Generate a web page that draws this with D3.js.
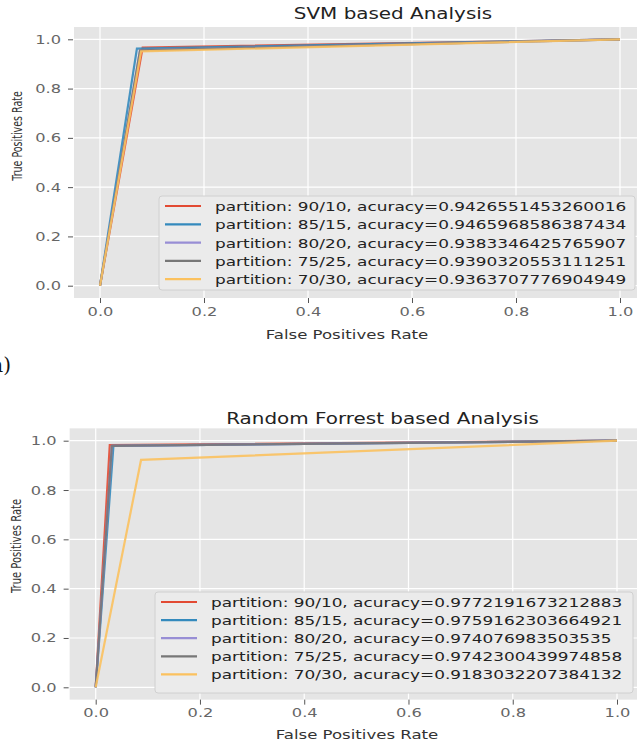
<!DOCTYPE html>
<html lang="en">
<head>
    <meta charset="UTF-8">
    <title>ROC curves</title>
    <style>
        body { margin: 0; background: #fff; }
        svg text { font-family: "DejaVu Sans", sans-serif; }
    </style>
</head>
<body>
<div id="chart"></div>

<script src="https://d3js.org/d3.v7.min.js"></script>
<script>
    // data
    var partitions = ["90/10", "85/15", "80/20", "75/25", "70/30"];
    var svmAccuracy = ["0.9426551453260016", "0.9465968586387434", "0.9383346425765907", "0.9390320553111251", "0.9363707776904949"];
    var svmFpr = [0.082, 0.071, 0.077, 0.077, 0.079];
    var svmTpr = [0.966, 0.962, 0.955, 0.955, 0.951];
    var rfAccuracy = ["0.9772191673212883", "0.9759162303664921", "0.974076983503535", "0.9742300439974858", "0.9183032207384132"];
    var rfFpr = [0.027, 0.034, 0.031, 0.031, 0.087];
    var rfTpr = [0.982, 0.979, 0.979, 0.979, 0.922];
    var tickValues = [0, 0.2, 0.4, 0.6, 0.8, 1.0];
    var colors = ["#E24A33", "#348ABD", "#988ED5", "#777777", "#FBC15E"];

    var W = 637, H = 747;
    var SX = 1.3; // the picture is stretched sideways

    var svg = d3.select("#chart").append("svg")
        .attr("width", W)
        .attr("height", H);

    function drawPanel(cfg) {
        var x = d3.scaleLinear().domain([0, 1]).range([cfg.x0, cfg.x1]);
        var y = d3.scaleLinear().domain([0, 1]).range([cfg.y0, cfg.y1]);
        var g = svg.append("g");

        // panel
        g.append("rect")
            .attr("x", x(-0.05))
            .attr("y", y(1.05))
            .attr("width", x(1.05) - x(-0.05))
            .attr("height", y(-0.05) - y(1.05))
            .attr("fill", "#E5E5E5");

        // grid
        g.selectAll(".vgrid").data(tickValues).enter().append("line")
            .attr("x1", function(d) { return x(d); })
            .attr("x2", function(d) { return x(d); })
            .attr("y1", y(1.05)).attr("y2", y(-0.05))
            .attr("stroke", "#fff").attr("stroke-width", 1.2);
        g.selectAll(".hgrid").data(tickValues).enter().append("line")
            .attr("y1", function(d) { return y(d); })
            .attr("y2", function(d) { return y(d); })
            .attr("x1", x(-0.05)).attr("x2", x(1.05))
            .attr("stroke", "#fff").attr("stroke-width", 1.2);

        // axes
        var xAxis = g.append("g")
            .attr("transform", "translate(0," + y(-0.05) + ")")
            .call(d3.axisBottom(x).tickValues(tickValues).tickFormat(d3.format(".1f")).tickSize(5).tickPadding(4));
        var yAxis = g.append("g")
            .attr("transform", "translate(" + (x(-0.05) - 1) + ",0)")
            .call(d3.axisLeft(y).tickValues(tickValues).tickFormat(d3.format(".1f")).tickSize(5).tickPadding(7));
        [xAxis, yAxis].forEach(function(a) {
            a.select(".domain").remove();
            a.selectAll(".tick line").attr("stroke", "#555").attr("stroke-width", 1);
            a.selectAll(".tick text")
                .attr("fill", "#666")
                .style("font-size", "12.5px");
        });
        xAxis.selectAll(".tick text").attr("transform", "scale(" + SX + ",1)");
        yAxis.selectAll(".tick text")
            .attr("x", -12 / SX)
            .attr("transform", "scale(" + SX + ",1)");

        // curves
        cfg.fpr.forEach(function(f, i) {
            var pts = [[0, 0], [f, cfg.tpr[i]], [1, 1]];
            g.append("path")
                .attr("d", d3.line().x(function(d) { return x(d[0]); }).y(function(d) { return y(d[1]); })(pts))
                .attr("fill", "none")
                .attr("stroke", colors[i])
                .attr("stroke-width", 2.2)
                .attr("stroke-linejoin", "miter")
                .attr("opacity", 0.9);
        });

        // titles
        svg.append("text")
            .attr("transform", "translate(" + cfg.titleX + "," + cfg.titleY + ") scale(1.33,1)")
            .attr("text-anchor", "middle")
            .attr("fill", "#222")
            .style("font-size", "15px")
            .text(cfg.title);
        svg.append("text")
            .attr("transform", "translate(" + cfg.xlabX + "," + cfg.xlabY + ") scale(1.38,1)")
            .attr("text-anchor", "middle")
            .attr("fill", "#333")
            .style("font-size", "12px")
            .text("False Positives Rate");
        svg.append("text")
            .attr("transform", "translate(" + cfg.ylabX + "," + cfg.ylabY + ") scale(1.45,1) rotate(-90)")
            .attr("text-anchor", "middle")
            .attr("fill", "#333")
            .style("font-size", cfg.ylabSize + "px")
            .text("True Positives Rate");

        // legend
        var lg = svg.append("g");
        lg.append("rect")
            .attr("x", cfg.legX).attr("y", cfg.legY)
            .attr("width", cfg.legW).attr("height", cfg.legH)
            .attr("rx", 3)
            .attr("fill", "#EBEBEB")
            .attr("stroke", "#D0D0D0");
        partitions.forEach(function(p, i) {
            var cy = cfg.legY + 10 + i * cfg.legStep;
            lg.append("line")
                .attr("x1", cfg.legX + 6).attr("x2", cfg.legX + 42)
                .attr("y1", cy).attr("y2", cy)
                .attr("stroke", colors[i]).attr("stroke-width", 2.2);
            lg.append("text")
                .attr("transform", "translate(" + (cfg.legX + 56) + "," + (cy + 5) + ") scale(" + SX + ",1)")
                .attr("fill", "#222")
                .style("font-size", "13px")
                .text("partition: " + p + ", acuracy=" + cfg.acc[i]);
        });
    }

    drawPanel({
        x0: 100, x1: 620, y0: 285.7, y1: 39.3,
        fpr: svmFpr, tpr: svmTpr, acc: svmAccuracy,
        title: "SVM based Analysis", titleX: 393, titleY: 18.5,
        xlabX: 347, xlabY: 339,
        ylabX: 22, ylabY: 136, ylabSize: 9.5,
        legX: 159, legY: 196, legW: 476, legH: 94, legStep: 18.3
    });
    drawPanel({
        x0: 95.7, x1: 617, y0: 687.3, y1: 440.7,
        fpr: rfFpr, tpr: rfTpr, acc: rfAccuracy,
        title: "Random Forrest based Analysis", titleX: 382.5, titleY: 424,
        xlabX: 357, xlabY: 739,
        ylabX: 21, ylabY: 546, ylabSize: 10,
        legX: 155, legY: 592, legW: 478, legH: 101, legStep: 18.1
    });

    // sub-figure mark, cut off at the left edge
    svg.append("text")
        .attr("x", 11).attr("y", 372)
        .attr("text-anchor", "end")
        .attr("fill", "#111")
        .style("font-family", "'DejaVu Serif', serif")
        .style("font-size", "20px")
        .text("(a)");
</script>
</body>
</html>
